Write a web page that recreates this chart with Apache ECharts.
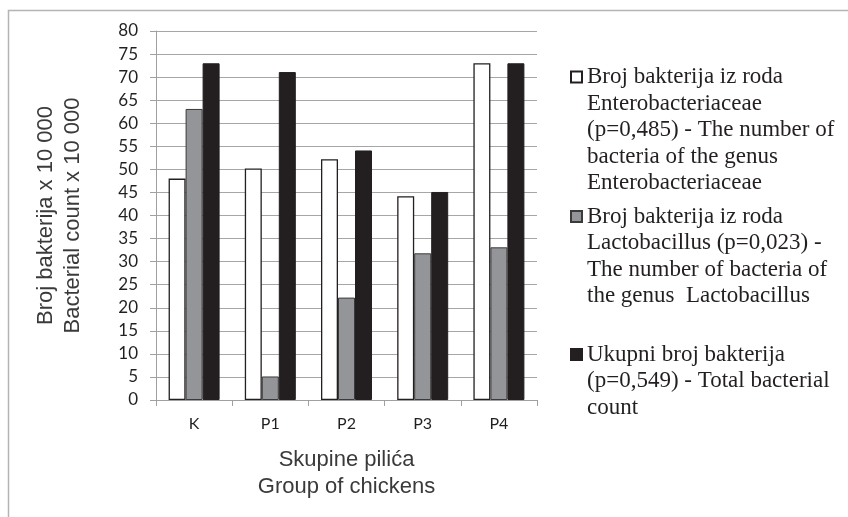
<!DOCTYPE html>
<html>
<head>
<meta charset="utf-8">
<script src="https://cdn.jsdelivr.net/npm/echarts@6/dist/echarts.min.js"></script>
<style>
html,body{margin:0;padding:0;background:#fff;}
#chart{width:848px;height:517px;}
</style>
</head>
<body>
<div id="chart"></div>
<script>
var categories = ['K', 'P1', 'P2', 'P3', 'P4'];
var seriesNames = [
  'Broj bakterija iz roda\nEnterobacteriaceae\n(p=0,485) - The number of\nbacteria of the genus\nEnterobacteriaceae',
  'Broj bakterija iz roda\nLactobacillus (p=0,023) -\nThe number of bacteria of\nthe genus  Lactobacillus',
  'Ukupni broj bakterija\n(p=0,549) - Total bacterial\ncount'
];
var enterobacteriaceae = [48, 50.2, 52.2, 44.2, 73];
var lactobacillus = [63.1, 5.1, 22.2, 31.8, 33.1];
var totalCount = [73, 71.1, 54.1, 45.1, 73];
var yTicks = {min: 0, max: 80, interval: 5};
var yAxisTitle = 'Broj bakterija x 10 000\nBacterial count x 10 000';
var xAxisTitle = 'Skupine pilića\nGroup of chickens';

var LH = 26.5;
// first-line centre of each legend entry
var legendFirstLine = [77, 216.5, 354.5];
function legendFor(i) {
  var n = seriesNames[i].split('\n').length;
  var pre = new Array(n).join('\n');
  return {
    data: [seriesNames[i]],
    left: 570,
    top: legendFirstLine[i] - (2 * n - 1) * LH / 2,
    padding: 0,
    itemWidth: 11,
    itemHeight: 11,
    icon: 'rect',
    selectedMode: false,
    formatter: function (name) { return pre + name; },
    textStyle: {
      fontFamily: 'Liberation Serif',
      fontSize: 23,
      lineHeight: LH,
      color: '#231f20'
    }
  };
}

var chart = echarts.init(document.getElementById('chart'), null, {renderer: 'canvas'});
var barBase = {type: 'bar', barWidth: 17, barGap: '0%', animation: false};
chart.setOption({
  animation: false,
  backgroundColor: '#fff',
  graphic: [{
    type: 'rect',
    shape: {x: 8.5, y: 10.5, width: 900, height: 600},
    style: {fill: 'none', stroke: '#b4b4b4', lineWidth: 1.5},
    silent: true
  }],
  grid: {left: 156, right: 311, top: 31, bottom: 117},
  legend: [legendFor(0), legendFor(1), legendFor(2)],
  xAxis: {
    type: 'category',
    data: categories,
    name: xAxisTitle,
    nameLocation: 'middle',
    nameGap: 46,
    nameTextStyle: {fontFamily: 'Liberation Sans', fontSize: 22, lineHeight: 27, color: '#3a3a3a'},
    axisLine: {lineStyle: {color: '#a0a0a0', width: 1}},
    axisTick: {show: true, length: 6, lineStyle: {color: '#a0a0a0'}},
    axisLabel: {fontFamily: 'Lato', fontSize: 16, color: '#231f20', margin: 16}
  },
  yAxis: {
    type: 'value',
    min: yTicks.min,
    max: yTicks.max,
    interval: yTicks.interval,
    name: yAxisTitle,
    nameLocation: 'middle',
    nameRotate: 90,
    nameGap: 70,
    nameTextStyle: {fontFamily: 'Liberation Sans', fontSize: 22, lineHeight: 27, color: '#3a3a3a'},
    axisLine: {show: true, lineStyle: {color: '#a0a0a0', width: 1}},
    axisTick: {show: true, length: 6, lineStyle: {color: '#a0a0a0'}},
    axisLabel: {fontFamily: 'Lato', fontSize: 17, color: '#231f20', margin: 18},
    splitLine: {show: true, lineStyle: {color: '#a6a6a6', width: 1.2}}
  },
  series: [
    Object.assign({}, barBase, {
      name: seriesNames[0], data: enterobacteriaceae,
      itemStyle: {color: '#ffffff', borderColor: '#231f20', borderWidth: 1.3}
    }),
    Object.assign({}, barBase, {
      name: seriesNames[1], data: lactobacillus,
      itemStyle: {color: '#939598', borderColor: '#3a3a3a', borderWidth: 1}
    }),
    Object.assign({}, barBase, {
      name: seriesNames[2], data: totalCount,
      itemStyle: {color: '#231f20', borderColor: '#231f20', borderWidth: 1}
    })
  ]
});
</script>
</body>
</html>
